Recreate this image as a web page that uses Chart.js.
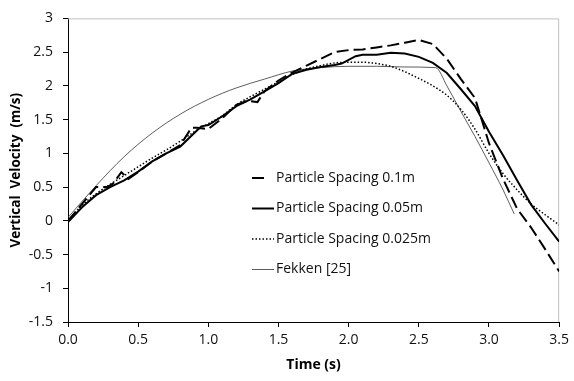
<!DOCTYPE html>
<html>
<head>
<meta charset="utf-8">
<script src="https://cdn.jsdelivr.net/npm/chart.js@4.4.0/dist/chart.umd.min.js"></script>
<style>
  html, body { margin: 0; padding: 0; background: #fff; }
</style>
</head>
<body>
<canvas id="chart-velocity" width="574" height="381"></canvas>
<script>
// Series (time in s, velocity in m/s)
const spacing01T = [0, 0.1, 0.2, 0.28, 0.32, 0.38, 0.43, 0.5, 0.6, 0.7, 0.8, 0.88, 0.92, 1.0, 1.1, 1.2, 1.28, 1.35, 1.4, 1.5, 1.6, 1.7, 1.8, 1.9, 2.0, 2.1, 2.2, 2.3, 2.4, 2.5, 2.6, 2.7, 2.8, 2.9, 3.0, 3.1, 3.2, 3.3, 3.4, 3.5];
const spacing01V = [0, 0.25, 0.5, 0.5, 0.55, 0.72, 0.62, 0.72, 0.88, 1.0, 1.12, 1.38, 1.38, 1.36, 1.52, 1.72, 1.78, 1.76, 1.92, 2.08, 2.2, 2.3, 2.4, 2.5, 2.53, 2.54, 2.57, 2.6, 2.64, 2.68, 2.62, 2.4, 2.1, 1.82, 1.15, 0.62, 0.18, -0.1, -0.42, -0.75];

const spacing005T = [0, 0.1, 0.2, 0.3, 0.4, 0.5, 0.6, 0.7, 0.8, 0.9, 0.95, 1.0, 1.1, 1.2, 1.3, 1.4, 1.5, 1.6, 1.7, 1.8, 1.9, 1.95, 2.05, 2.1, 2.2, 2.3, 2.4, 2.5, 2.6, 2.7, 2.8, 2.9, 3.0, 3.1, 3.2, 3.3, 3.4, 3.5];
const spacing005V = [-0.02, 0.2, 0.38, 0.5, 0.6, 0.73, 0.88, 1.0, 1.1, 1.3, 1.4, 1.42, 1.55, 1.7, 1.8, 1.92, 2.04, 2.18, 2.24, 2.28, 2.31, 2.33, 2.44, 2.46, 2.46, 2.49, 2.48, 2.43, 2.34, 2.19, 1.95, 1.7, 1.32, 0.97, 0.6, 0.24, -0.04, -0.31];

const spacing0025T = [0, 0.1, 0.2, 0.3, 0.4, 0.5, 0.6, 0.7, 0.8, 0.9, 1.0, 1.1, 1.2, 1.3, 1.4, 1.5, 1.6, 1.7, 1.8, 1.9, 2.0, 2.1, 2.2, 2.3, 2.4, 2.5, 2.6, 2.7, 2.8, 2.9, 3.0, 3.1, 3.2, 3.3, 3.4, 3.5];
const spacing0025V = [0, 0.23, 0.4, 0.54, 0.67, 0.8, 0.93, 1.05, 1.18, 1.32, 1.44, 1.56, 1.72, 1.84, 1.95, 2.06, 2.17, 2.25, 2.3, 2.34, 2.35, 2.35, 2.33, 2.29, 2.21, 2.11, 2.0, 1.86, 1.65, 1.36, 1.0, 0.7, 0.46, 0.25, 0.09, -0.06];

const fekkenT = [0, 0.2, 0.4, 0.6, 0.8, 1.0, 1.2, 1.4, 1.6, 1.8, 2.0, 2.2, 2.4, 2.62, 2.7, 2.8, 2.9, 3.0, 3.1, 3.18];
const fekkenV = [0.05, 0.52, 0.95, 1.3, 1.58, 1.8, 1.97, 2.1, 2.22, 2.27, 2.29, 2.29, 2.28, 2.27, 2.0, 1.62, 1.25, 0.86, 0.46, 0.1];

const seriesLabels = ['Particle Spacing 0.1m', 'Particle Spacing 0.05m', 'Particle Spacing 0.025m', 'Fekken [25]'];

function toPoints(ts, vs) {
  return ts.map((t, i) => ({ x: t, y: vs[i] }));
}

const FONT = "'Open Sans', 'DejaVu Sans', sans-serif";

// light gray frame on top and right of the plot area
const framePlugin = {
  id: 'frame',
  beforeDatasetsDraw(chart) {
    const { ctx, chartArea: a } = chart;
    ctx.save();
    ctx.strokeStyle = '#c0c0c0';
    ctx.lineWidth = 1;
    ctx.beginPath();
    ctx.moveTo(a.left, a.top + 0.5);
    ctx.lineTo(a.right - 0.5, a.top + 0.5);
    ctx.lineTo(a.right - 0.5, a.bottom);
    ctx.stroke();
    ctx.restore();
  }
};

// legend sitting inside the plot, like the original
const insideLegend = {
  id: 'insideLegend',
  afterDraw(chart) {
    const ctx = chart.ctx;
    const x0 = 252, textX = 276, y0 = 178, rowGap = 30.5;
    chart.data.datasets.forEach((ds, i) => {
      const y = y0 + i * rowGap;
      ctx.save();
      ctx.strokeStyle = ds.borderColor;
      ctx.lineWidth = ds.borderWidth;
      ctx.setLineDash(ds.borderDash || []);
      ctx.beginPath();
      ctx.moveTo(x0, y);
      ctx.lineTo(i === 0 ? x0 + 14 : x0 + 22, y);
      ctx.stroke();
      ctx.setLineDash([]);
      ctx.fillStyle = '#111';
      ctx.font = '14px ' + FONT;
      ctx.textBaseline = 'middle';
      ctx.fillText(ds.label, textX, y);
      ctx.restore();
    });
  }
};

new Chart(document.getElementById('chart-velocity'), {
  type: 'line',
  data: {
    datasets: [
      {
        label: seriesLabels[0],
        data: toPoints(spacing01T, spacing01V),
        borderColor: '#000',
        borderWidth: 2,
        borderDash: [12, 5],
        pointRadius: 0,
        tension: 0
      },
      {
        label: seriesLabels[1],
        data: toPoints(spacing005T, spacing005V),
        borderColor: '#000',
        borderWidth: 2,
        pointRadius: 0,
        tension: 0
      },
      {
        label: seriesLabels[2],
        data: toPoints(spacing0025T, spacing0025V),
        borderColor: '#000',
        borderWidth: 1.5,
        borderDash: [1.5, 2],
        pointRadius: 0,
        cubicInterpolationMode: 'monotone'
      },
      {
        label: seriesLabels[3],
        data: toPoints(fekkenT, fekkenV),
        borderColor: '#333',
        borderWidth: 0.8,
        pointRadius: 0,
        cubicInterpolationMode: 'monotone'
      }
    ]
  },
  options: {
    responsive: false,
    animation: false,
    layout: { padding: { top: 14, right: 12, left: 0, bottom: 0 } },
    plugins: {
      legend: { display: false },
      tooltip: { enabled: false }
    },
    scales: {
      x: {
        type: 'linear',
        min: 0,
        max: 3.5,
        afterFit: (s) => { s.height = 59; },
        ticks: {
          stepSize: 0.5,
          color: '#111',
          padding: 5,
          font: { family: FONT, size: 14 },
          callback: (v) => v.toFixed(1)
        },
        grid: { drawOnChartArea: false, drawTicks: true, tickLength: 5, color: '#000' },
        border: { color: '#000', width: 1 },
        title: {
          display: true,
          text: 'Time (s)',
          color: '#000',
          font: { family: FONT, size: 14, weight: 'bold' },
          padding: { top: 0, bottom: 8 }
        }
      },
      y: {
        min: -1.5,
        max: 3,
        afterFit: (s) => { s.width = 68; },
        ticks: {
          stepSize: 0.5,
          color: '#111',
          padding: 10,
          font: { family: FONT, size: 14 },
          callback: (v) => String(v)
        },
        grid: { drawOnChartArea: false, drawTicks: true, tickLength: 5, color: '#000' },
        border: { color: '#000', width: 1 },
        title: {
          display: true,
          text: 'Vertical  Velocity  (m/s)',
          color: '#000',
          font: { family: FONT, size: 13.5, weight: 'bold' },
          padding: { top: 8, bottom: 0 }
        }
      }
    }
  },
  plugins: [framePlugin, insideLegend]
});
</script>
</body>
</html>
